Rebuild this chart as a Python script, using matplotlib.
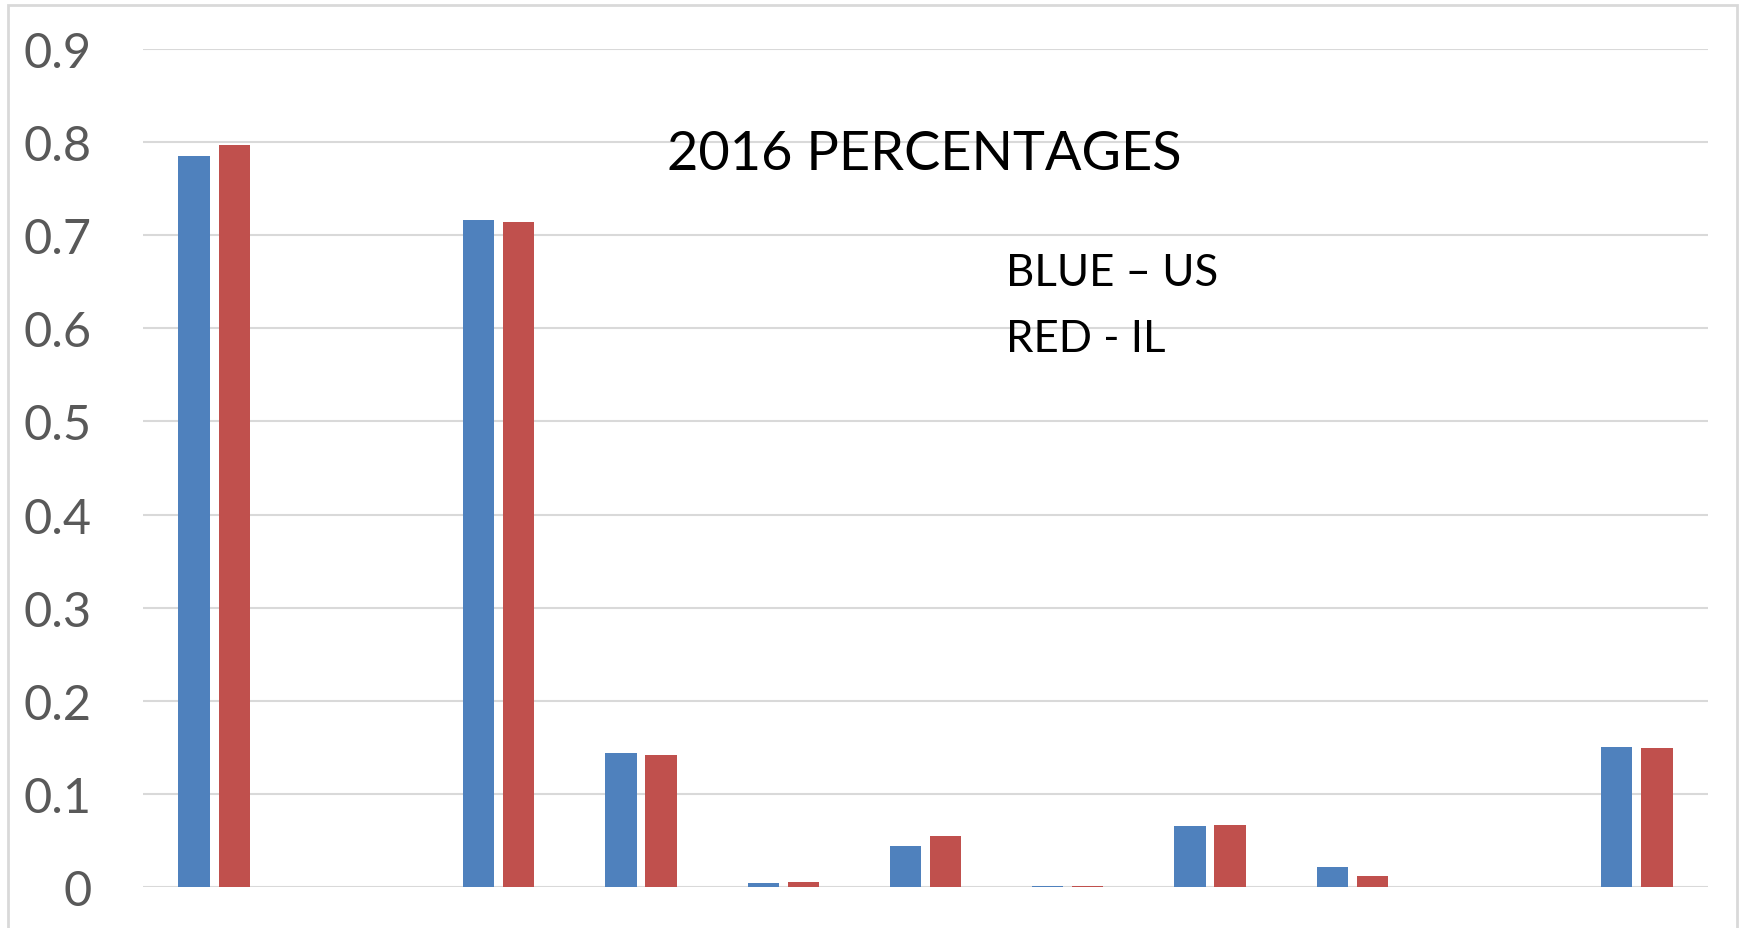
import numpy as np
import matplotlib
matplotlib.use('Agg')
import matplotlib.pyplot as plt
from matplotlib.patches import Rectangle

plt.rcParams['font.family'] = ['Lato', 'DejaVu Sans']

# 11 categories (x labels cut off in the source), two of them empty
categories = np.arange(11)
us_values = [0.785, 0.0, 0.716, 0.144, 0.004, 0.044, 0.001, 0.066, 0.022, 0.0, 0.150]
il_values = [0.797, 0.0, 0.714, 0.142, 0.005, 0.055, 0.001, 0.067, 0.012, 0.0, 0.149]
yticks = [0, 0.1, 0.2, 0.3, 0.4, 0.5, 0.6, 0.7, 0.8, 0.9]
ytick_labels = ['0', '0.1', '0.2', '0.3', '0.4', '0.5', '0.6', '0.7', '0.8', '0.9']

blue = '#4F81BD'
red = '#C0504D'
grid = '#D9D9D9'

W, H = 1750, 929
fig = plt.figure(figsize=(W / 100, H / 100), dpi=100)
ax = fig.add_axes([143 / W, 41 / H, (1708 - 143) / W, (888 - 50) / H])

bw = 0.22
off = 0.141
ax.bar(categories - off, us_values, width=bw, color=blue, edgecolor='none', zorder=3)
ax.bar(categories + off, il_values, width=bw, color=red, edgecolor='none', zorder=3)

ax.set_xlim(-0.5, 10.5)
ax.set_ylim(0, 0.9)
ax.set_yticks(yticks)
ax.set_yticklabels(ytick_labels)
ax.set_xticks([])
ax.tick_params(axis='y', length=0, pad=37, labelsize=35, labelcolor='#595959')
for s in ax.spines.values():
    s.set_visible(False)
for y in yticks:
    ax.axhline(y, color=grid, lw=1.5, zorder=1)

fig.text(924 / W, 1 - 155 / H, '2016 PERCENTAGES', fontsize=39, ha='center', va='center')
fig.text(1006 / W, 1 - 274 / H, 'BLUE \u2013 US', fontsize=31.5, ha='left', va='center')
fig.text(1006 / W, 1 - 339 / H, 'RED - IL', fontsize=31.5, ha='left', va='center')

# chart frame
fig.patches.append(Rectangle((8 / W, -0.1), (1737 - 8) / W, 1.1 - 6 / H,
                             transform=fig.transFigure, fill=False,
                             edgecolor=grid, lw=2))

fig.savefig('out.png', dpi=100, facecolor='white')
